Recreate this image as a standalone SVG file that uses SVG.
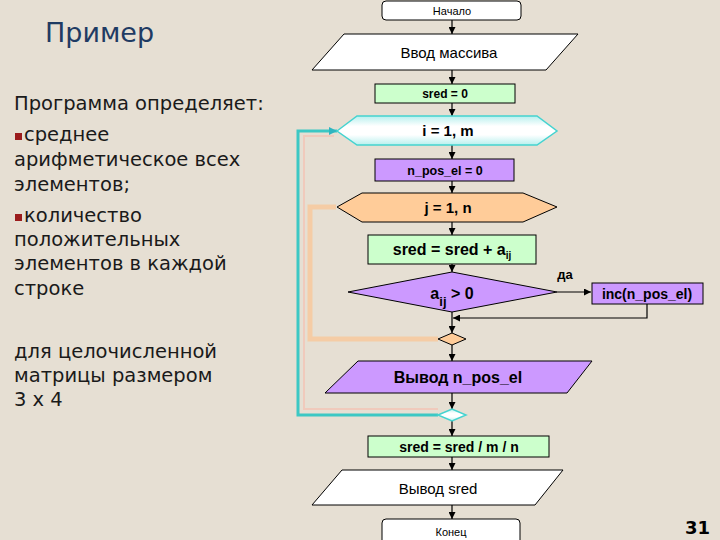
<svg xmlns="http://www.w3.org/2000/svg" width="720" height="540" viewBox="0 0 720 540">
<defs>
<style>
.bg{fill:#e6dfd3}
.lt{font-family:"DejaVu Sans",Verdana,sans-serif;font-size:19.5px;fill:#1a1a1a}
.fc{font-family:"Liberation Sans",Arial,sans-serif;fill:#000;text-anchor:middle}
.b{font-weight:bold}
.nd{stroke:#000;stroke-width:1}
.white{fill:#fff}
.green{fill:#ccffcc}
.purple{fill:#cc99ff}
.orange{fill:#ffcc99}
.cyan{fill:url(#cyg);stroke:#45d3d0;stroke-width:1.5}
.conn{fill:none;stroke:#000;stroke-width:1.2}
.bul{fill:#9b1c1c}
</style>
<linearGradient id="cyg" x1="0" y1="0" x2="0" y2="1">
<stop offset="0" stop-color="#b8f0ee"/>
<stop offset="0.35" stop-color="#ffffff"/>
<stop offset="0.65" stop-color="#ffffff"/>
<stop offset="1" stop-color="#b8f0ee"/>
</linearGradient>
<marker id="ah" viewBox="0 0 10 10" refX="10" refY="5" markerWidth="7" markerHeight="7" markerUnits="userSpaceOnUse" orient="auto"><path d="M0,0 L10,5 L0,10 z" fill="#000"/></marker>
<marker id="ahc" viewBox="0 0 10 10" refX="10" refY="5" markerWidth="8" markerHeight="8" markerUnits="userSpaceOnUse" orient="auto"><path d="M0,0 L10,5 L0,10 z" fill="#2fb5c0"/></marker>
</defs>
<rect class="bg" x="0" y="0" width="720" height="540"/>

<g id="left-text">
<text x="45" y="42" font-family="'DejaVu Sans',Verdana,sans-serif" font-size="27" fill="#1f3b63">Пример</text>
<text class="lt" x="14" y="110">Программа определяет:</text>
<rect class="bul" x="15" y="133" width="7" height="7"/>
<text class="lt" x="24" y="141">среднее</text>
<text class="lt" x="14" y="166">арифметическое всех</text>
<text class="lt" x="14" y="191">элементов;</text>
<rect class="bul" x="15" y="214" width="7" height="7"/>
<text class="lt" x="24" y="222">количество</text>
<text class="lt" x="14" y="246">положительных</text>
<text class="lt" x="14" y="270">элементов в каждой</text>
<text class="lt" x="14" y="295">строке</text>
<text class="lt" x="14" y="358">для целочисленной</text>
<text class="lt" x="14" y="382">матрицы размером</text>
<text class="lt" x="14" y="406">3 x 4</text>
<text x="710" y="534" text-anchor="end" font-family="'DejaVu Sans',Verdana,sans-serif" font-weight="bold" font-size="18" fill="#000">31</text>
</g>

<g id="connectors">
<polyline points="438,339 310,339 310,207 336,207" fill="none" stroke="#f7c99c" stroke-width="5" stroke-opacity="0.85"/>
<polyline points="438,409 304,409 304,136 334,136" fill="none" stroke="#f2c4b6" stroke-width="2" stroke-opacity="0.8"/>
<polyline points="438,415 298,415 298,131 337,131" fill="none" stroke="#3cc8c4" stroke-width="3" marker-end="url(#ahc)"/>
<line class="conn" x1="452" y1="20" x2="452" y2="34" marker-end="url(#ah)"/>
<line class="conn" x1="452" y1="70" x2="452" y2="84" marker-end="url(#ah)"/>
<line class="conn" x1="452" y1="103" x2="452" y2="116" marker-end="url(#ah)"/>
<line class="conn" x1="452" y1="145" x2="452" y2="159" marker-end="url(#ah)"/>
<line class="conn" x1="452" y1="181" x2="452" y2="193" marker-end="url(#ah)"/>
<line class="conn" x1="452" y1="222" x2="452" y2="235" marker-end="url(#ah)"/>
<line class="conn" x1="452" y1="264" x2="452" y2="272" marker-end="url(#ah)"/>
<line class="conn" x1="452" y1="312" x2="452" y2="333" marker-end="url(#ah)"/>
<line class="conn" x1="557" y1="292" x2="591" y2="292" marker-end="url(#ah)"/>
<polyline class="conn" points="647,304 647,318 453,318" marker-end="url(#ah)"/>
<line class="conn" x1="452" y1="345" x2="452" y2="361" marker-end="url(#ah)"/>
<line class="conn" x1="452" y1="393" x2="452" y2="409" marker-end="url(#ah)"/>
<line class="conn" x1="452" y1="421" x2="452" y2="436" marker-end="url(#ah)"/>
<line class="conn" x1="452" y1="457" x2="452" y2="470" marker-end="url(#ah)"/>
<line class="conn" x1="452" y1="505" x2="452" y2="519" marker-end="url(#ah)"/>
<text class="fc b" x="565" y="279" font-size="13">да</text>
</g>

<g id="start">
<rect class="white nd" x="382" y="1" width="139" height="19" rx="4"/>
<text class="fc" x="452" y="15" font-size="11">Начало</text>
</g>
<g id="input">
<polygon class="white nd" points="344,34 578,34 546,70 312,70"/>
<text class="fc" x="449" y="58" font-size="15">Ввод массива</text>
</g>
<g id="sred0">
<rect class="green nd" x="375" y="84" width="140" height="19"/>
<text class="fc b" x="445" y="98" font-size="12">sred = 0</text>
</g>
<g id="loop-i">
<polygon class="cyan" points="337,131 357,116 537,116 557,131 537,145 357,145"/>
<text class="fc b" x="448" y="136" font-size="15">i = 1, m</text>
</g>
<g id="npos0">
<rect class="purple nd" x="375" y="159" width="139" height="22"/>
<text class="fc b" x="445" y="175" font-size="12.5">n_pos_el = 0</text>
</g>
<g id="loop-j">
<polygon class="orange nd" points="337,207 362,193 523,193 557,207 523,222 362,222"/>
<text class="fc b" x="448" y="213" font-size="15">j = 1, n</text>
</g>
<g id="sum">
<rect class="green nd" x="368" y="235" width="168" height="29"/>
<text class="fc b" x="452" y="255" font-size="16">sred = sred + a<tspan font-size="10" dy="4">ij</tspan></text>
</g>
<g id="cond">
<polygon class="purple nd" points="348,292 452,272 557,292 452,312"/>
<text class="fc b" x="452" y="299" font-size="16">a<tspan font-size="13" dy="7">ij</tspan><tspan dy="-7"> &gt; 0</tspan></text>
</g>
<g id="inc">
<rect class="purple nd" x="592" y="283" width="111" height="21"/>
<text class="fc b" x="647" y="299" font-size="14">inc(n_pos_el)</text>
</g>
<g id="merge-j">
<polygon class="orange nd" points="438,339 452,333 466,339 452,345"/>
</g>
<g id="output-npos">
<polygon class="purple nd" points="358,361 592,361 567,393 325,393"/>
<text class="fc b" x="458" y="383" font-size="16">Вывод n_pos_el</text>
</g>
<g id="merge-i">
<polygon class="cyan" points="438,415 452,409 466,415 452,421"/>
</g>
<g id="avg">
<rect class="green nd" x="368" y="436" width="181" height="21"/>
<text class="fc b" x="459" y="452" font-size="14">sred = sred / m / n</text>
</g>
<g id="output-sred">
<polygon class="white nd" points="342,470 563,470 535,505 312,505"/>
<text class="fc" x="438" y="494" font-size="15">Вывод sred</text>
</g>
<g id="end">
<rect class="white nd" x="382" y="519" width="138" height="30" rx="4"/>
<text class="fc" x="451" y="536" font-size="11">Конец</text>
</g>
</svg>
